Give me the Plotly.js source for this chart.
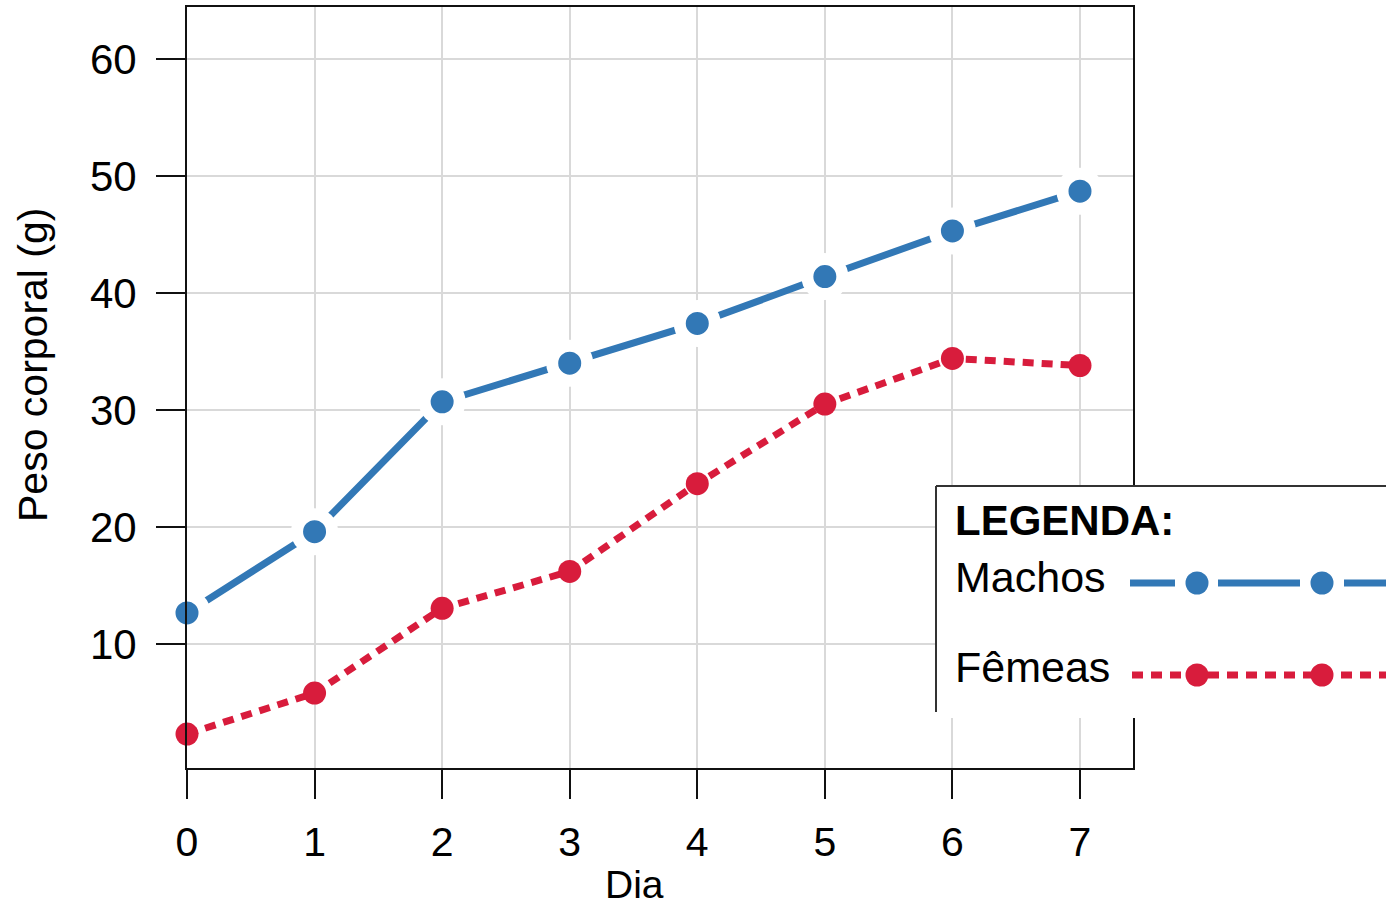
<!DOCTYPE html>
<html>
<head>
<meta charset="utf-8">
<script src="https://cdn.plot.ly/plotly-3.0.1.min.js"></script>
<style>html,body{margin:0;padding:0;background:#fff;}#chart{width:1386px;height:907px;}</style>
</head>
<body>
<div id="chart"></div>
<script>
// ---- data ----
const dias = [0, 1, 2, 3, 4, 5, 6, 7];
const machos = [12.65, 19.6, 30.7, 34.0, 37.4, 41.4, 45.3, 48.7];
const femeas = [2.3, 5.8, 13.05, 16.2, 23.7, 30.5, 34.4, 33.8];
const yTicks = [10, 20, 30, 40, 50, 60];
const xTicks = [0, 1, 2, 3, 4, 5, 6, 7];
const nomeMachos = "Machos";
const nomeFemeas = "Fêmeas";
const tituloLegenda = "LEGENDA:";
const tituloX = "Dia";
const tituloY = "Peso corporal (g)";

const AZUL = "#3278b6";
const VERMELHO = "#d81c3c";
const FONT = "Liberation Sans, Arial, Helvetica, sans-serif";

// plot area in pixels
const W = 1386, H = 907;
const L = 187, R = 1133, T = 7, B = 768;
const PW = R - L, PH = B - T;
const px = x => (x - L) / PW;
const py = y => (B - y) / PH;

const traces = [
  {
    x: dias, y: femeas, name: nomeFemeas, type: "scatter", mode: "lines+markers",
    line: {color: VERMELHO, width: 7, dash: "11px,8px"},
    marker: {color: VERMELHO, size: 23},
    cliponaxis: false, showlegend: false, hoverinfo: "x+y"
  },
  {
    x: dias, y: machos, name: nomeMachos, type: "scatter", mode: "lines",
    line: {color: AZUL, width: 7},
    cliponaxis: false, showlegend: false, hoverinfo: "skip"
  },
  {
    x: dias, y: machos, name: nomeMachos, type: "scatter", mode: "markers",
    marker: {color: AZUL, size: 35, line: {color: "#ffffff", width: 12}},
    cliponaxis: false, showlegend: false, hoverinfo: "x+y"
  }
];

// legend drawn with shapes
const rx = 11.5 / PW, ry = 11.5 / PH;
function circ(cx, cy, color) {
  return {type: "circle", xref: "paper", yref: "paper", layer: "above",
    x0: px(cx) - rx, x1: px(cx) + rx, y0: py(cy) - ry, y1: py(cy) + ry,
    fillcolor: color, line: {width: 0}};
}
function seg(x0, x1, y, color, dash, width) {
  return {type: "line", xref: "paper", yref: "paper", layer: "above",
    x0: px(x0), x1: px(x1), y0: py(y), y1: py(y),
    line: {color: color, width: width, dash: dash}};
}
const legY1 = 583, legY2 = 675;
const shapes = [
  {type: "rect", xref: "paper", yref: "paper", layer: "above",
    x0: px(936), x1: px(1420), y0: py(718), y1: py(486),
    fillcolor: "#ffffff", line: {width: 0}},
  {type: "line", xref: "paper", yref: "paper", layer: "above",
    x0: px(936), x1: px(1420), y0: py(486), y1: py(486),
    line: {color: "#333333", width: 2}},
  {type: "line", xref: "paper", yref: "paper", layer: "above",
    x0: px(936), x1: px(936), y0: py(486), y1: py(712),
    line: {color: "#333333", width: 2}},
  seg(1130, 1175, legY1, AZUL, "solid", 7),
  seg(1218, 1300, legY1, AZUL, "solid", 7),
  seg(1344, 1420, legY1, AZUL, "solid", 7),
  circ(1197, legY1, AZUL),
  circ(1322, legY1, AZUL),
  seg(1132, 1420, legY2, VERMELHO, "11px,8px", 7),
  circ(1197, legY2, VERMELHO),
  circ(1322, legY2, VERMELHO)
];

const annotations = [
  {text: tituloX, xref: "paper", yref: "paper", x: px(634), y: py(907),
    xanchor: "center", yanchor: "bottom", showarrow: false, borderpad: 0,
    font: {family: FONT, size: 39, color: "#000"}},
  {text: tituloY, xref: "paper", yref: "paper", x: px(33), y: py(365),
    xanchor: "center", yanchor: "middle", showarrow: false, textangle: -90,
    font: {family: FONT, size: 41, color: "#000"}},
  {text: "<b>" + tituloLegenda + "</b>", xref: "paper", yref: "paper", x: px(953), y: py(520),
    xanchor: "left", yanchor: "middle", showarrow: false,
    font: {family: FONT, size: 42, color: "#000"}},
  {text: nomeMachos, xref: "paper", yref: "paper", x: px(953), y: py(577),
    xanchor: "left", yanchor: "middle", showarrow: false,
    font: {family: FONT, size: 43, color: "#000"}},
  {text: nomeFemeas, xref: "paper", yref: "paper", x: px(953), y: py(667),
    xanchor: "left", yanchor: "middle", showarrow: false,
    font: {family: FONT, size: 43, color: "#000"}}
];

const layout = {
  width: W, height: H,
  margin: {l: L, r: W - R, t: T, b: H - B, pad: 0},
  paper_bgcolor: "#ffffff", plot_bgcolor: "#ffffff",
  showlegend: false,
  font: {family: FONT, color: "#000"},
  xaxis: {
    range: [0, 7.4155], tickvals: xTicks, ticktext: xTicks.map(String),
    showgrid: true, gridcolor: "#d9d9d9", gridwidth: 2,
    zeroline: false, showline: true, linecolor: "#111", linewidth: 2, mirror: true,
    ticks: "outside", ticklen: 29, tickwidth: 2, tickcolor: "#111",
    tickfont: {family: FONT, size: 41, color: "#000"}, ticklabelstandoff: 8,
    fixedrange: true
  },
  yaxis: {
    range: [-0.6, 64.44], tickvals: yTicks, ticktext: yTicks.map(String),
    showgrid: true, gridcolor: "#d9d9d9", gridwidth: 2,
    zeroline: false, showline: true, linecolor: "#111", linewidth: 2, mirror: true,
    ticks: "outside", ticklen: 29, tickwidth: 2, tickcolor: "#111",
    tickfont: {family: FONT, size: 42, color: "#000"}, ticklabelstandoff: 11,
    fixedrange: true
  },
  shapes: shapes,
  annotations: annotations
};

Plotly.newPlot("chart", traces, layout, {displayModeBar: false, staticPlot: true});
</script>
</body>
</html>
